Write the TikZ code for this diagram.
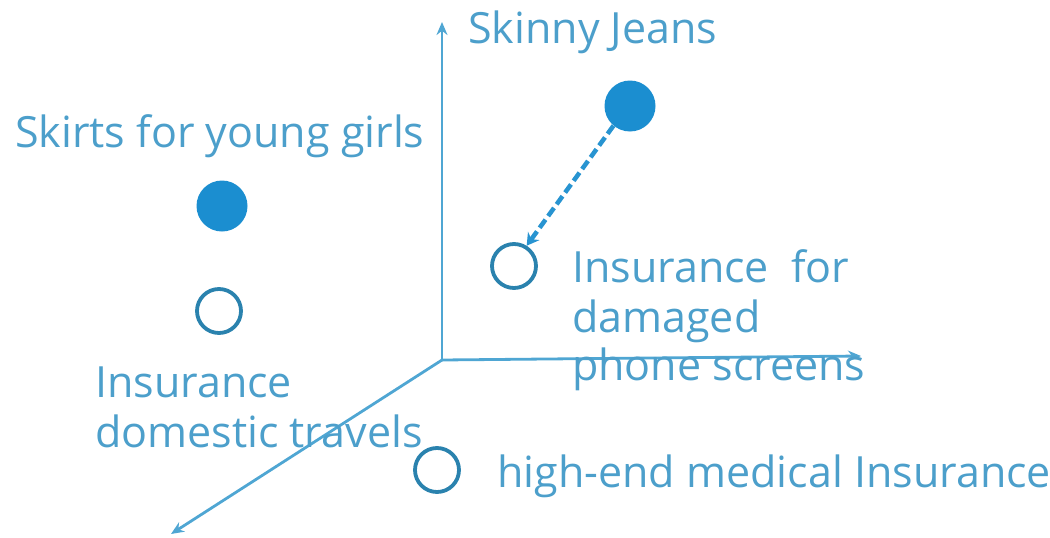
\documentclass[tikz,border=0pt]{standalone}
\usepackage{fontspec}
\setmainfont{Open Sans}
\usetikzlibrary{arrows.meta}
\definecolor{axisblue}{HTML}{4FA6D3}
\definecolor{textblue}{HTML}{4C9FCB}
\definecolor{dotblue}{HTML}{1B8ED0}
\definecolor{ringblue}{HTML}{2A82AE}
\begin{document}
\begin{tikzpicture}[x=1pt,y=-1pt,
  axis/.style={draw=axisblue,line width=2.8pt,-{Stealth[length=13pt,width=11pt]}},
  lbl/.style={anchor=base west,inner sep=0pt,text=textblue,font=\fontsize{43}{48}\selectfont},
  fulldot/.style={circle,fill=dotblue,minimum size=51pt,inner sep=0pt},
  ring/.style={circle,draw=ringblue,line width=3.8pt,minimum size=44pt,inner sep=0pt},
  move/.style={draw=dotblue!75!axisblue,line width=4.5pt,dash pattern=on 10pt off 4.5pt,-{Stealth[length=12pt,width=14pt]}}]
\useasboundingbox (0,0) rectangle (1050,538);
% axes
\coordinate (o) at (442,360);
\coordinate (up) at (442,22);
\coordinate (right) at (861,356);
\coordinate (front) at (171,534);
\draw[axis] (o) -- (up);
\draw[axis] (o) -- (right);
\draw[axis] (o) -- (front);
% products and services
\node[fulldot] (jeans) at (630,106) {};
\node[fulldot] (skirts) at (222,206) {};
\node[ring] (screens) at (514,266) {};
\node[ring] (travel) at (219,311) {};
\node[ring] (medical) at (437,470) {};
\draw[move] (jeans.230) -- (screens.58);
% labels
\node[lbl] (tjeans) at (468,43) {Skinny Jeans};
\node[lbl] (tskirts) at (15,147) {Skirts for young girls};
\node[lbl] (tscr1) at (572,282) {Insurance~ for};
\node[lbl] (tscr2) at (572,332) {damaged};
\node[lbl] (tscr3) at (572,380) {phone screens};
\node[lbl] (ttr1) at (95,397) {Insurance};
\node[lbl] (ttr2) at (95,447) {domestic travels};
\node[lbl] (tmed) at (497,487) {high-end medical Insurance};
\end{tikzpicture}
\end{document}
